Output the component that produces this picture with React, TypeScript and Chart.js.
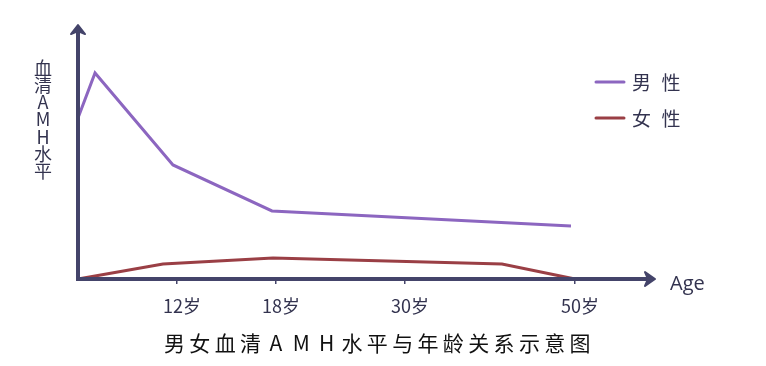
import React, { useEffect, useRef } from "react";
import { Chart, registerables } from "chart.js";

Chart.register(...registerables);

// Horizontal positions are in plot units (0..100 along the arrowed axis), vertical in relative AMH level (0..100)
const maleX = [0, 2.95, 16.46, 33.62, 85.44];
const maleY = [63.4, 81.1, 44.9, 26.8, 20.9];
const femaleX = [0, 14.73, 33.8, 73.48, 86.14];
const femaleY = [0, 5.9, 8.3, 5.9, 0];
const tickValues = [17.16, 34.32, 56.67, 86.14];
const tickLabels = ["12岁", "18岁", "30岁", "50岁"];
const seriesNames = ["男 性", "女 性"];
const seriesColors = ["#8c66c0", "#9a3f45"];
const yTitle = "血清AMH水平";
const xTitle = "Age";
const chartTitle = "男女血清AMH水平与年龄关系示意图";

const AXIS = "#44446a";
const TEXT = "#33334f";
const CJK = '"Noto Sans CJK SC", "Noto Sans", sans-serif';

const decorPlugin = {
  id: "decor",
  afterDatasetsDraw(chart: any) {
    const ctx = chart.ctx as CanvasRenderingContext2D;
    const a = chart.chartArea;
    const L = a.left;
    const B = a.bottom;
    ctx.save();
    // axes
    ctx.strokeStyle = AXIS;
    ctx.fillStyle = AXIS;
    ctx.lineWidth = 4;
    ctx.lineCap = "butt";
    ctx.beginPath();
    ctx.moveTo(L, B + 2);
    ctx.lineTo(L, a.top + 6);
    ctx.stroke();
    ctx.beginPath();
    ctx.moveTo(L - 2, B);
    ctx.lineTo(a.right - 6, B);
    ctx.stroke();
    // arrow heads
    ctx.lineWidth = 2;
    ctx.lineJoin = "round";
    ctx.beginPath();
    ctx.moveTo(L, a.top);
    ctx.lineTo(L - 7, a.top + 9);
    ctx.lineTo(L, a.top + 6);
    ctx.lineTo(L + 7, a.top + 9);
    ctx.closePath();
    ctx.fill();
    ctx.stroke();
    ctx.beginPath();
    ctx.moveTo(a.right, B);
    ctx.lineTo(a.right - 10, B - 7);
    ctx.lineTo(a.right - 7, B);
    ctx.lineTo(a.right - 10, B + 7);
    ctx.closePath();
    ctx.fill();
    ctx.stroke();

    // y title, stacked upright characters
    ctx.fillStyle = TEXT;
    ctx.font = `18px ${CJK}`;
    ctx.textAlign = "center";
    ctx.textBaseline = "middle";
    Array.from(yTitle).forEach((ch, i) => {
      ctx.fillText(ch, 43, 68 + i * 17.2);
    });

    // x title
    ctx.font = `20px "Open Sans", "Noto Sans", sans-serif`;
    ctx.textAlign = "left";
    ctx.textBaseline = "alphabetic";
    ctx.fillText(xTitle, 670, 290);

    // legend
    seriesNames.forEach((name, k) => {
      const y = 82 + k * 36;
      ctx.strokeStyle = seriesColors[k];
      ctx.lineWidth = 3;
      ctx.lineCap = "round";
      ctx.beginPath();
      ctx.moveTo(596, y);
      ctx.lineTo(624, y);
      ctx.stroke();
      ctx.fillStyle = TEXT;
      ctx.font = `19px ${CJK}`;
      ctx.textAlign = "center";
      ctx.textBaseline = "middle";
      Array.from(name).forEach((ch, i) => {
        ctx.fillText(ch, 641.5 + i * 14.75, y + 1);
      });
    });

    // chart title
    ctx.fillStyle = "#111111";
    ctx.font = `21px ${CJK}`;
    ctx.textAlign = "center";
    ctx.textBaseline = "middle";
    Array.from(chartTitle).forEach((ch, i) => {
      ctx.fillText(ch, 174.5 + i * 25.35, 343);
    });
    ctx.restore();
  },
};

export default function App() {
  const ref = useRef<HTMLCanvasElement | null>(null);
  useEffect(() => {
    if (!ref.current) return;
    const chart = new Chart(ref.current, {
      type: "line",
      data: {
        datasets: [
          {
            label: seriesNames[0],
            data: maleX.map((x, i) => ({ x, y: maleY[i] })),
            borderColor: seriesColors[0],
            borderWidth: 3,
            pointRadius: 0,
            tension: 0,
            clip: false,
          },
          {
            label: seriesNames[1],
            data: femaleX.map((x, i) => ({ x, y: femaleY[i] })),
            borderColor: seriesColors[1],
            borderWidth: 3,
            pointRadius: 0,
            tension: 0,
            clip: false,
          },
        ],
      },
      options: {
        animation: false,
        responsive: false,
        devicePixelRatio: 1,
        layout: { padding: { left: 78, right: 111, top: 25, bottom: 0 } },
        plugins: { legend: { display: false }, tooltip: { enabled: false } },
        scales: {
          x: {
            type: "linear",
            min: 0,
            max: 100,
            afterBuildTicks: (scale: any) => {
              scale.ticks = tickValues.map((v) => ({ value: v }));
            },
            afterFit: (scale: any) => {
              scale.height = 87;
            },
            border: { display: false },
            grid: {
              drawOnChartArea: false,
              drawTicks: true,
              tickLength: 5,
              tickColor: AXIS,
              lineWidth: 1.5,
            },
            ticks: {
              autoSkip: false,
              maxRotation: 0,
              padding: 11,
              labelOffset: 5,
              color: TEXT,
              font: { size: 18, family: CJK },
              callback: (_v: any, i: number) => tickLabels[i],
            },
          },
          y: { display: false, min: 0, max: 100 },
        },
      },
      plugins: [decorPlugin],
    } as any);
    return () => chart.destroy();
  }, []);
  return (
    <div style={{ position: "fixed", left: 0, top: 0, width: 766, height: 366 }}>
      <canvas ref={ref} width={766} height={366} />
    </div>
  );
}
